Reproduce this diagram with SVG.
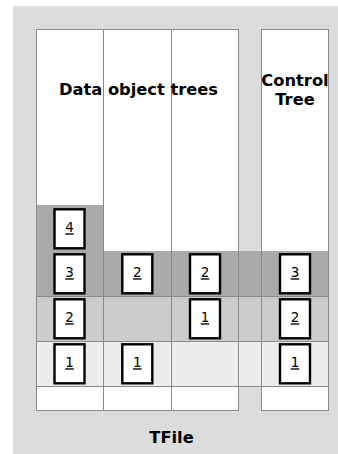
<svg xmlns="http://www.w3.org/2000/svg" width="338" height="454" viewBox="0 0 338 454">
  <style>
    .col { fill: #ffffff; }
    .grid { stroke: #8a8a8a; stroke-width: 1; fill: none; }
    .title { font-family: "DejaVu Sans", "Liberation Sans", sans-serif; font-weight: bold; font-size: 16.3px; fill: #000; text-anchor: middle; }
    .key rect { fill: #ffffff; stroke: #000; stroke-width: 2.4; }
    .key text { font-family: "DejaVu Sans", "Liberation Sans", sans-serif; font-size: 13.5px; fill: #000; text-anchor: middle; text-decoration: underline; }
  </style>

  <!-- file container -->
  <rect x="13" y="6" width="325" height="448" fill="#dcdcdc"/>

  <!-- tree columns -->
  <rect class="col" x="36" y="29" width="202" height="381"/>
  <rect class="col" x="261" y="29" width="67" height="381"/>

  <!-- cycle bands -->
  <rect x="36" y="205" width="67" height="46" fill="#aaaaaa"/>
  <rect x="36" y="251" width="292" height="45" fill="#aaaaaa"/>
  <rect x="36" y="296" width="292" height="45" fill="#cccccc"/>
  <rect x="36" y="341" width="292" height="45" fill="#ececec"/>

  <!-- grid lines -->
  <g id="connectors" class="grid">
    <rect x="36.5" y="29.5" width="202" height="381"/>
    <rect x="261.5" y="29.5" width="67" height="381"/>
    <line x1="103.5" y1="29.5" x2="103.5" y2="410.5"/>
    <line x1="171.5" y1="29.5" x2="171.5" y2="410.5"/>
    <line x1="36.5" y1="296.5" x2="328.5" y2="296.5"/>
    <line x1="36.5" y1="341.5" x2="328.5" y2="341.5"/>
    <line x1="36.5" y1="386.5" x2="328.5" y2="386.5"/>
  </g>

  <!-- labels -->
  <text class="title" x="138.5" y="95">Data object trees</text>
  <text class="title" x="295" y="86">Control</text>
  <text class="title" x="295" y="105">Tree</text>
  <text class="title" x="171.5" y="443">TFile</text>

  <!-- keys: first data tree -->
  <g id="d1-k4" class="key"><rect x="54.5" y="209.3" width="30" height="39"/><text x="69.5" y="232.3">4</text></g>
  <g id="d1-k3" class="key"><rect x="54.5" y="254.3" width="30" height="39"/><text x="69.5" y="277.3">3</text></g>
  <g id="d1-k2" class="key"><rect x="54.5" y="299.3" width="30" height="39"/><text x="69.5" y="322.3">2</text></g>
  <g id="d1-k1" class="key"><rect x="54.5" y="344.3" width="30" height="39"/><text x="69.5" y="367.3">1</text></g>

  <!-- keys: second data tree -->
  <g id="d2-k2" class="key"><rect x="122.3" y="254.3" width="30" height="39"/><text x="137.3" y="277.3">2</text></g>
  <g id="d2-k1" class="key"><rect x="122.3" y="344.3" width="30" height="39"/><text x="137.3" y="367.3">1</text></g>

  <!-- keys: third data tree -->
  <g id="d3-k2" class="key"><rect x="190" y="254.3" width="30" height="39"/><text x="205" y="277.3">2</text></g>
  <g id="d3-k1" class="key"><rect x="190" y="299.3" width="30" height="39"/><text x="205" y="322.3">1</text></g>

  <!-- keys: control tree -->
  <g id="c-k3" class="key"><rect x="280" y="254.3" width="30" height="39"/><text x="295" y="277.3">3</text></g>
  <g id="c-k2" class="key"><rect x="280" y="299.3" width="30" height="39"/><text x="295" y="322.3">2</text></g>
  <g id="c-k1" class="key"><rect x="280" y="344.3" width="30" height="39"/><text x="295" y="367.3">1</text></g>
</svg>
